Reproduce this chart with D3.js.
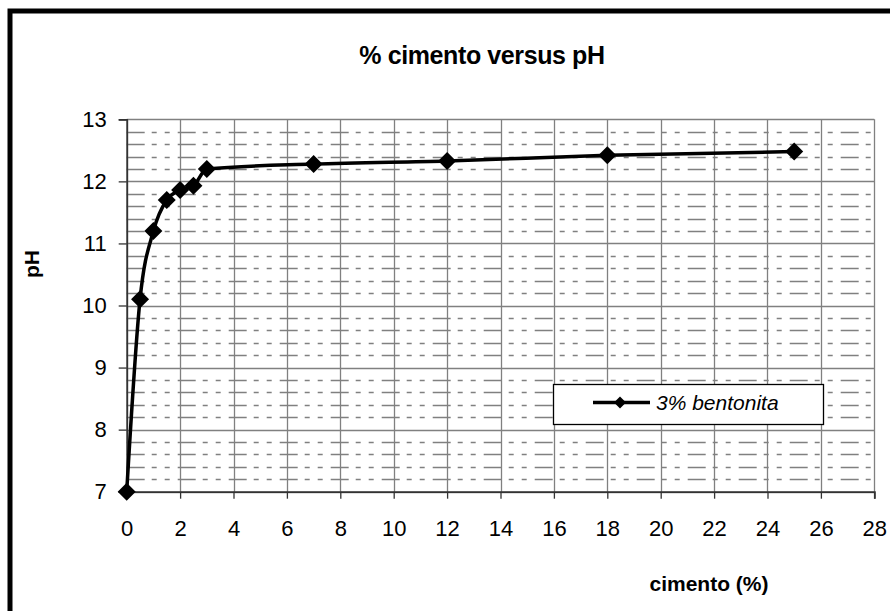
<!DOCTYPE html>
<html>
<head>
<meta charset="utf-8">
<script src="https://cdn.jsdelivr.net/npm/d3@7"></script>
<style>
html,body{margin:0;padding:0;background:#fff;overflow:hidden;}
svg{display:block;}
</style>
</head>
<body>
<svg id="chart" width="890" height="611"></svg>
<script>
const cimento = [0, 0.5, 1, 1.5, 2, 2.5, 3, 7, 12, 18, 25];
const pH = [7, 10.1, 11.2, 11.7, 11.86, 11.93, 12.2, 12.28, 12.33, 12.42, 12.48];
const xTicks = [0, 2, 4, 6, 8, 10, 12, 14, 16, 18, 20, 22, 24, 26, 28];
const yTicks = [7, 8, 9, 10, 11, 12, 13];
const seriesName = "3% bentonita";
const titleText = "% cimento versus pH";
const xLabel = "cimento (%)";
const yLabel = "pH";

const svg = d3.select("#chart");
const font = "'Liberation Sans', Arial, Helvetica, sans-serif";

const x = d3.scaleLinear().domain([0, 28]).range([126.7, 874.3]);
const y = d3.scaleLinear().domain([7, 13]).range([491.7, 119.3]);

// outer chart border
svg.append("rect").attr("x", 10).attr("y", 11).attr("width", 900).attr("height", 620)
  .attr("fill", "none").attr("stroke", "#000").attr("stroke-width", 5);

const grid = svg.append("g");
// minor horizontal gridlines
const minor = d3.range(7, 13.001, 0.2).filter(v => Math.abs(v - Math.round(v)) > 0.01);
grid.selectAll("line.minor").data(minor).enter().append("line")
  .attr("x1", x(0)).attr("x2", x(28))
  .attr("y1", d => Math.round(y(d)) + 0.5).attr("y2", d => Math.round(y(d)) + 0.5)
  .attr("stroke", "#808080").attr("stroke-width", 1.3)
  .attr("stroke-dasharray", "18,7,5,8,5,8");
// major horizontal gridlines
grid.selectAll("line.hmaj").data(yTicks).enter().append("line")
  .attr("x1", x(0)).attr("x2", x(28))
  .attr("y1", d => Math.round(y(d)) + 0.5).attr("y2", d => Math.round(y(d)) + 0.5)
  .attr("stroke", "#808080").attr("stroke-width", 1.3);
// major vertical gridlines
grid.selectAll("line.vmaj").data(xTicks).enter().append("line")
  .attr("y1", y(7)).attr("y2", y(13))
  .attr("x1", d => Math.round(x(d)) + 0.5).attr("x2", d => Math.round(x(d)) + 0.5)
  .attr("stroke", "#808080").attr("stroke-width", 1.3);

// axes
const yAxis = d3.axisLeft(y).tickValues(yTicks).tickSize(8).tickPadding(12).tickFormat(d3.format("d"));
const gy = svg.append("g").attr("transform", `translate(${x(0)},0)`).call(yAxis);
const xAxis = d3.axisBottom(x).tickValues(xTicks).tickSize(7).tickPadding(22).tickFormat(d3.format("d"));
const gx = svg.append("g").attr("transform", `translate(0,${y(7)})`).call(xAxis);
[gx, gy].forEach(g => {
  g.select(".domain").attr("stroke", "#333").attr("stroke-width", 1.8);
  g.selectAll(".tick line").attr("stroke", "#333").attr("stroke-width", 1.3);
  g.selectAll(".tick text").attr("font-family", font).attr("font-size", 22).attr("fill", "#000");
});

// series line
const pts = cimento.map((c, i) => [c, pH[i]]);
const line = d3.line().x(d => x(d[0])).y(d => y(d[1])).curve(d3.curveMonotoneX);
svg.append("path").datum(pts).attr("d", line)
  .attr("fill", "none").attr("stroke", "#000").attr("stroke-width", 3.5).attr("stroke-linejoin", "round");

const diamondPath = "M0,-9L9,0L0,9L-9,0Z";
svg.selectAll("path.pt").data(pts).enter().append("path")
  .attr("d", diamondPath)
  .attr("transform", d => `translate(${x(d[0])},${y(d[1])})`)
  .attr("fill", "#000");

// legend
const lg = svg.append("g");
lg.append("rect").attr("x", 553.5).attr("y", 384.5).attr("width", 270).attr("height", 40)
  .attr("fill", "#fff").attr("stroke", "#000").attr("stroke-width", 1.3);
lg.append("line").attr("x1", 593).attr("x2", 650).attr("y1", 402.5).attr("y2", 402.5)
  .attr("stroke", "#000").attr("stroke-width", 3.5);
lg.append("path").attr("d", "M0,-6L6,0L0,6L-6,0Z").attr("transform", "translate(620,402.5)").attr("fill", "#000");
lg.append("text").attr("x", 656).attr("y", 410).text(seriesName)
  .attr("font-family", font).attr("font-size", 21).attr("font-style", "italic");

// title and axis labels
svg.append("text").attr("x", 482).attr("y", 64).attr("text-anchor", "middle")
  .attr("font-family", font).attr("font-size", 25).attr("font-weight", "bold")
  .attr("letter-spacing", -0.4).text(titleText);
svg.append("text").attr("x", 709).attr("y", 591).attr("text-anchor", "middle")
  .attr("font-family", font).attr("font-size", 21).attr("font-weight", "bold")
  .text(xLabel);
svg.append("text").attr("transform", "translate(39,264) rotate(-90)").attr("text-anchor", "middle")
  .attr("font-family", font).attr("font-size", 21).attr("font-weight", "bold")
  .text(yLabel);
</script>
</body>
</html>
